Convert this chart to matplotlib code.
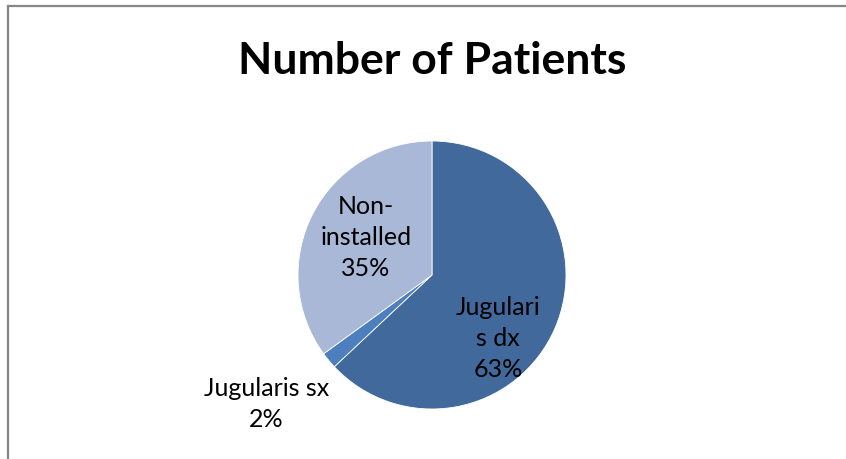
import numpy as np
import matplotlib.pyplot as plt
from matplotlib.lines import Line2D

labels = ['Jugulari\ns dx', 'Jugularis sx', 'Non-\ninstalled']
values = [63, 2, 35]
colors = ['#41699c', '#4d7fbf', '#a8b8d6']
# where each label sits: distance from centre (radius units) and angle shift (deg)
label_dist = [0.68, 1.56, 0.57]
label_shift = [-20, -2, -3]

plt.rcParams['font.family'] = ['Lato', 'DejaVu Sans']

W, H = 846, 460
fig = plt.figure(figsize=(W / 100, H / 100), dpi=100)

cx, cy, r = 432, 276, 134
ax = fig.add_axes([(cx - r) / W, (H - cy - r) / H, 2 * r / W, 2 * r / H])
wedges, _ = ax.pie(values, colors=colors, startangle=90, counterclock=False,
                   radius=1, wedgeprops=dict(linewidth=0.6, edgecolor='white'))
ax.set_xlim(-1, 1)
ax.set_ylim(-1, 1)
ax.set_aspect('equal')
ax.axis('off')

total = sum(values)
for w, lab, v, d, s in zip(wedges, labels, values, label_dist, label_shift):
    ang = np.deg2rad((w.theta1 + w.theta2) / 2 + s)
    ax.text(d * np.cos(ang), d * np.sin(ang), f'{lab}\n{round(v / total * 100)}%',
            ha='center', va='center', fontsize=18, linespacing=1.42,
            color='black', clip_on=False)

fig.text(cx / W, 1 - 61 / H, 'Number of Patients', ha='center', va='center',
         fontsize=32, fontweight='bold')

fig.add_artist(Line2D([7.5 / W, 1], [1 - 6.5 / H, 1 - 6.5 / H], color='#878787', lw=1.6))
fig.add_artist(Line2D([7.5 / W, 7.5 / W], [0, 1 - 6.5 / H], color='#878787', lw=1.6))

fig.savefig('out.png', dpi=100)
